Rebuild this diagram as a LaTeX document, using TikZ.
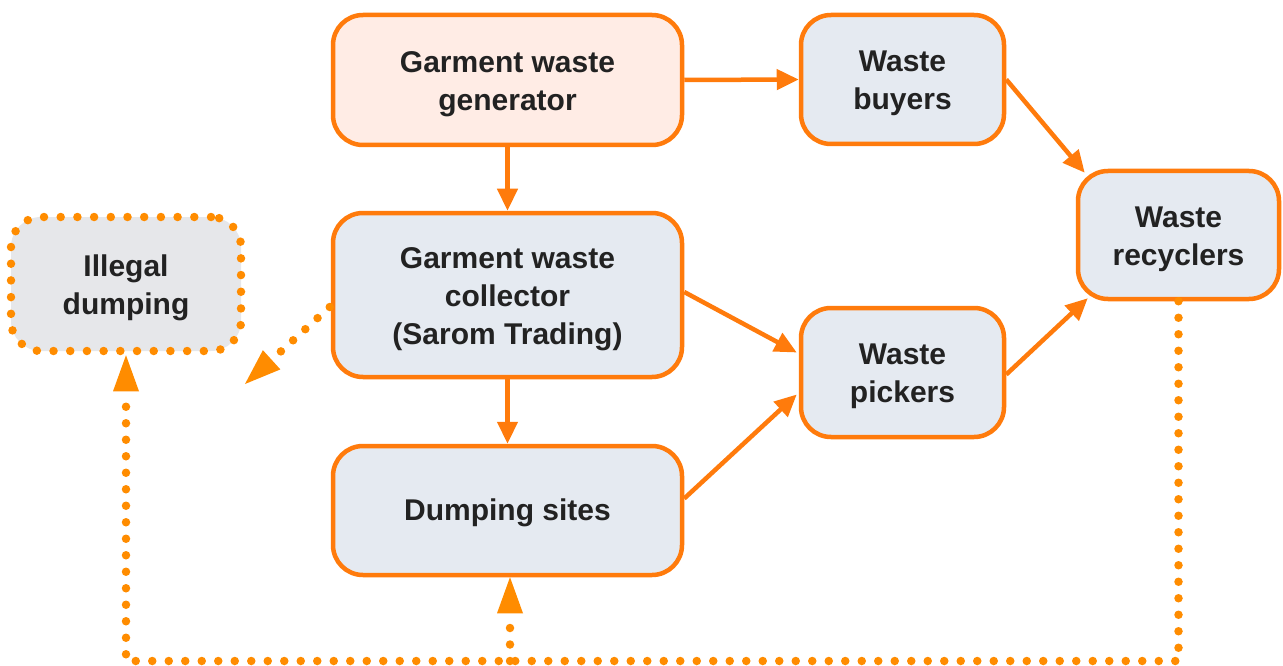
\documentclass[tikz,border=0pt]{standalone}
\usepackage{fontspec}
\setmainfont{Liberation Sans}
\usetikzlibrary{arrows.meta,calc}
\definecolor{bord}{HTML}{FF7B0C}
\definecolor{dotc}{HTML}{FF8C00}
\definecolor{peach}{HTML}{FFECE5}
\definecolor{bluegray}{HTML}{E5EAF1}
\definecolor{lgray}{HTML}{E6E7EA}
\definecolor{txt}{HTML}{222222}
\tikzset{
  box/.style={draw=bord, line width=4.5pt, rounded corners=30pt, fill=bluegray, inner sep=0pt},
  lbl/.style={align=center, text=txt, font=\bfseries\fontsize{30}{38}\selectfont, inner sep=0pt},
  dotbox/.style={draw=dotc, line width=8.5pt, line cap=round, dash pattern=on 0pt off 16.7pt,
    rounded corners=30pt, fill=lgray, inner sep=0pt},
  conn/.style={draw=bord, line width=4.5pt, -{Triangle[length=22pt,width=20pt]}},
  dotline/.style={draw=dotc, line width=8.5pt, line cap=round, dash pattern=on 0pt off 16.5pt,
    -{Triangle[length=36pt,width=26pt,line width=0pt]}}
}
\begin{document}
\begin{tikzpicture}[x=1pt,y=-1pt]
\useasboundingbox (0,0) rectangle (1283,666);
\node[box, fill=peach, minimum width=349pt, minimum height=130pt] (gen) at (507.5,80) {};
\node[box, minimum width=203pt, minimum height=129pt] (buy) at (902.5,79.5) {};
\node[box, minimum width=349pt, minimum height=164pt] (coll) at (507.5,295) {};
\node[dotbox, minimum width=230pt, minimum height=134pt] (ill) at (126,284) {};
\node[box, minimum width=203pt, minimum height=129pt] (pick) at (902.5,372.5) {};
\node[box, minimum width=201pt, minimum height=128pt] (rec) at (1178.5,235) {};
\node[box, minimum width=349pt, minimum height=129pt] (dump) at (507.5,510.5) {};

\node[lbl] (gent) at ($(gen.center)+(0,4)$) {Garment waste\\generator};
\node[lbl] (buyt) at ($(buy.center)+(0,4)$) {Waste\\buyers};
\node[lbl] (collt) at ($(coll.center)+(0,4)$) {Garment waste\\collector\\(Sarom Trading)};
\node[lbl] (illt) at ($(ill.center)+(0,4)$) {Illegal\\dumping};
\node[lbl] (pickt) at ($(pick.center)+(0,4)$) {Waste\\pickers};
\node[lbl] (rect) at ($(rec.center)+(0,4)$) {Waste\\recyclers};
\node[lbl] (dumpt) at ($(dump.center)+(0,2)$) {Dumping sites};

\coordinate (base) at (0,661);
\coordinate (illtip) at (245,384);

\draw[conn] (gen.east) -- (buy.west);
\draw[conn] (gen.south) -- (coll.north);
\draw[conn] (coll.south) -- (dump.north);
\draw[conn] ($(coll.east)+(0,-3)$) -- ($(pick.west)+(-2,-20)$);
\draw[conn] ($(dump.east)+(0,-12)$) -- ($(pick.west)+(-2,22)$);
\draw[conn] (buy.east) -- ($(rec.north west)+(9,4)$);
\draw[conn] ($(pick.east)+(0,2)$) -- ($(rec.south west)+(12,-3)$);

\draw[dotline] ($(coll.west)+(-1,12)$) -- (illtip);
\draw[dotline] (rec.south) -- (rec.south |- base) -| (ill.south);
\draw[dotline] ($(dump.south |- base)+(2.5,0)$) -- ($(dump.south)+(2.5,0)$);
\end{tikzpicture}
\end{document}
